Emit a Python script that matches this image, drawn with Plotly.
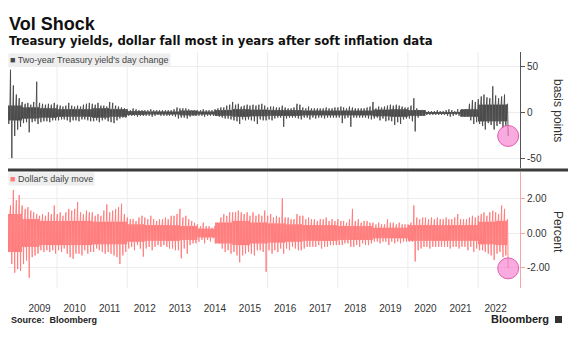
import pandas as pd
import plotly.graph_objects as go

W, H = 576, 340

# ---------------- data ----------------
START_MONTH = "2008-08-01"

# Two-year Treasury yield day change, monthly high / low (basis points), Aug 2008 - Oct 2022
YIELD_HI = [
    12, 47, 30, 20, 16,
    12, 10, 11, 9, 12, 34, 11, 10, 9, 10, 9, 11,
    9, 8, 7, 8, 11, 8, 7, 8, 7, 9, 10, 11,
    10, 9, 11, 8, 8, 7, 12, 11, 8, 7, 6, 5,
    4, 3, 5, 4, 3, 3, 3, 3, 4, 3, 3, 3,
    3, 3, 3, 3, 4, 6, 5, 5, 5, 4, 3, 3,
    3, 3, 4, 3, 3, 3, 4, 5, 6, 6, 8, 9,
    12, 9, 10, 7, 8, 9, 8, 9, 8, 9, 10, 8,
    6, 7, 7, 6, 6, 8, 6, 5, 5, 6, 10, 9,
    6, 5, 7, 5, 5, 5, 5, 5, 6, 5, 5, 6,
    6, 7, 6, 5, 7, 6, 5, 5, 5, 5, 6, 7,
    12, 5, 7, 6, 7, 8, 9, 8, 9, 8, 7, 6,
    6, 8, 16, 5, 3, 3, 2, 2, 2, 2, 3, 2,
    2, 3, 4, 3, 2, 4, 3, 2, 4, 10, 14, 12,
    15, 18, 20, 17, 16, 29, 19, 16, 18, 20,
]
YIELD_LO = [
    -12, -49, -25, -18, -15,
    -11, -10, -21, -10, -9, -12, -10, -9, -9, -10, -8, -8,
    -8, -7, -7, -8, -10, -8, -8, -9, -7, -7, -8, -9,
    -9, -8, -10, -8, -7, -9, -10, -11, -8, -6, -5, -5,
    -3, -3, -3, -4, -3, -3, -3, -3, -4, -3, -2, -3,
    -3, -3, -3, -3, -4, -6, -5, -5, -6, -4, -3, -3,
    -3, -3, -4, -3, -3, -3, -3, -4, -5, -6, -6, -7,
    -8, -9, -12, -7, -8, -7, -8, -9, -12, -7, -8, -8,
    -7, -8, -6, -5, -5, -15, -6, -5, -5, -5, -6, -7,
    -5, -5, -7, -5, -6, -5, -5, -6, -5, -5, -5, -5,
    -5, -11, -6, -5, -15, -5, -5, -5, -5, -5, -6, -7,
    -6, -5, -8, -6, -9, -8, -9, -13, -10, -12, -7, -6,
    -6, -9, -20, -5, -3, -3, -2, -2, -2, -2, -2, -2,
    -2, -3, -4, -3, -2, -3, -3, -2, -3, -8, -12, -10,
    -12, -14, -18, -11, -13, -18, -14, -12, -16, -14,
]
# half-width of the dense core of the yield band, per half-year (basis points)
YIELD_CORE = {
    (2008, 2): 8,
    (2009, 1): 6, (2009, 2): 5, (2010, 1): 4, (2010, 2): 4, (2011, 1): 5, (2011, 2): 4,
    (2012, 1): 2, (2012, 2): 1.5, (2013, 1): 1.5, (2013, 2): 2.5, (2014, 1): 1.5, (2014, 2): 3,
    (2015, 1): 4, (2015, 2): 3.5, (2016, 1): 3, (2016, 2): 3, (2017, 1): 2.5, (2017, 2): 2.5,
    (2018, 1): 2.5, (2018, 2): 2.5, (2019, 1): 3.5, (2019, 2): 4, (2020, 1): 3, (2020, 2): 1,
    (2021, 1): 1, (2021, 2): 4, (2022, 1): 9, (2022, 2): 9,
}

# Dollar's daily move, monthly high / low (percent), Aug 2008 - Oct 2022
USD_HI = [
    0.8, 1.6, 2.5, 1.9, 2.2,
    1.6, 1.4, 1.5, 1.3, 1.2, 1.1, 1.0, 1.1, 1.0, 1.2, 1.1, 1.6,
    1.1, 1.2, 1.0, 1.2, 1.4, 1.3, 1.4, 1.8, 1.2, 1.1, 1.3, 1.2,
    1.2, 1.0, 1.1, 1.0, 1.3, 1.66, 1.2, 1.3, 1.4, 1.5, 1.7, 1.1,
    0.9, 0.8, 0.8, 0.7, 0.9, 1.0, 0.9, 0.8, 1.0, 0.8, 0.7, 0.8,
    0.8, 0.9, 0.8, 1.0, 1.0, 1.1, 1.4, 0.9, 1.0, 0.8, 0.7, 0.6,
    0.5, 0.4, 0.6, 0.4, 0.4, 0.3, 0.4, 0.5, 0.9, 1.1, 1.0, 1.2,
    1.2, 1.2, 1.3, 1.2, 1.1, 1.2, 1.0, 1.2, 1.0, 1.1, 1.0, 1.3,
    1.0, 1.1, 0.9, 1.0, 0.9, 2.0, 0.9, 0.9, 0.8, 0.8, 1.1, 1.0,
    1.0, 0.8, 0.9, 0.8, 0.8, 0.7, 0.8, 0.8, 0.9, 0.7, 0.8, 0.7,
    0.8, 0.7, 0.7, 0.6, 0.8, 1.4, 0.7, 0.8, 0.6, 0.7, 0.7, 0.6,
    0.6, 0.5, 0.6, 0.5, 0.5, 0.8, 0.6, 0.6, 0.5, 0.6, 0.5, 0.5,
    0.5, 0.6, 1.6, 0.9, 0.8, 0.9, 0.9, 0.8, 0.9, 0.8, 0.9, 0.8,
    0.8, 0.9, 0.8, 0.8, 0.9, 1.1, 0.8, 0.8, 0.8, 0.9, 1.0, 0.9,
    1.0, 1.1, 1.2, 1.0, 1.2, 1.3, 1.2, 1.1, 1.6, 1.4,
]
USD_LO = [
    -0.9, -1.8, -2.3, -2.1, -2.2,
    -1.8, -1.6, -2.6, -1.4, -1.3, -1.2, -1.0, -1.1, -1.0, -1.1, -1.0, -1.2,
    -1.0, -1.1, -0.9, -1.2, -1.4, -1.5, -1.2, -1.2, -1.3, -1.0, -1.2, -1.1,
    -1.1, -0.9, -1.0, -1.1, -1.2, -1.1, -1.2, -1.3, -1.4, -1.8, -1.3, -1.1,
    -0.9, -0.8, -1.0, -0.7, -0.9, -1.37, -0.9, -0.8, -1.0, -0.8, -0.7, -0.8,
    -0.7, -0.8, -0.9, -0.9, -1.0, -1.0, -1.47, -0.9, -1.2, -0.7, -0.6, -0.6,
    -0.5, -0.4, -0.6, -0.4, -0.5, -0.3, -0.4, -0.6, -0.9, -1.1, -1.0, -1.2,
    -1.1, -1.3, -1.7, -1.3, -1.2, -1.1, -1.2, -1.3, -1.0, -1.0, -1.1, -2.25,
    -1.0, -1.2, -1.0, -1.1, -0.9, -1.2, -0.9, -1.0, -0.8, -0.9, -1.0, -1.0,
    -0.9, -0.8, -0.8, -0.8, -0.8, -0.7, -0.9, -0.8, -0.8, -0.7, -0.7, -0.7,
    -0.7, -0.7, -0.6, -0.6, -0.8, -0.8, -0.7, -0.8, -0.6, -0.7, -0.7, -0.6,
    -0.5, -0.5, -0.6, -0.5, -0.5, -0.7, -0.5, -0.6, -0.5, -0.6, -0.5, -0.5,
    -0.5, -0.5, -1.65, -1.0, -0.9, -0.8, -0.8, -0.9, -0.8, -0.8, -0.8, -0.8,
    -0.8, -0.8, -0.9, -0.8, -0.8, -0.9, -0.8, -0.8, -1.0, -0.8, -1.1, -0.9,
    -1.0, -1.0, -1.1, -1.2, -1.3, -1.57, -1.2, -1.1, -1.4, -1.3,
]
# half-width of the dense core of the dollar band, per half-year (percent)
USD_CORE = {
    (2008, 2): 1.1,
    (2009, 1): 0.8, (2009, 2): 0.7, (2010, 1): 0.7, (2010, 2): 0.7, (2011, 1): 0.65,
    (2011, 2): 0.65, (2012, 1): 0.5, (2012, 2): 0.45, (2013, 1): 0.45, (2013, 2): 0.4,
    (2014, 1): 0.25, (2014, 2): 0.6, (2015, 1): 0.7, (2015, 2): 0.6, (2016, 1): 0.55,
    (2016, 2): 0.5, (2017, 1): 0.45, (2017, 2): 0.45, (2018, 1): 0.4, (2018, 2): 0.4,
    (2019, 1): 0.3, (2019, 2): 0.3, (2020, 1): 0.45, (2020, 2): 0.45, (2021, 1): 0.45,
    (2021, 2): 0.45, (2022, 1): 0.65, (2022, 2): 0.7,
}

# last days (November 2022, soft CPI print)
FINAL_DATES = ["2022-11-03", "2022-11-10"]
YIELD_FINAL = [10, -25]
USD_FINAL = [0.8, -2.05]

YEARS = list(range(2009, 2023))            # x tick labels
GRID_YEARS = [2010, 2012, 2014, 2016, 2018, 2020, 2022]
YIELD_TICKS = [-50, 0, 50]
USD_TICKS = [-2, 0, 2]

# ---------------- build series ----------------
# each month: its high and low days, with the dense core swings in between
DAYS = (2, 5, 9, 13, 16, 20, 24, 27)
months = pd.date_range(START_MONTH, periods=len(YIELD_HI), freq="MS")
xs, ys_y, ys_u = [], [], []
for m, yh, yl, uh, ul in zip(months, YIELD_HI, YIELD_LO, USD_HI, USD_LO):
    half = (m.year, 1 if m.month <= 6 else 2)
    cy, cu = YIELD_CORE[half], USD_CORE[half]
    xs += [m + pd.Timedelta(days=d) for d in DAYS]
    ys_y += [yh, -cy, cy, -cy, yl, cy, -cy, cy]
    ys_u += [uh, -cu, cu, -cu, ul, cu, -cu, cu]
xs += list(pd.to_datetime(FINAL_DATES))
ys_y += YIELD_FINAL
ys_u += USD_FINAL

# ---------------- layout geometry ----------------
def px_x(p):
    return p / W

def px_y(p):
    return 1 - p / H

X_DOM = [px_x(8), px_x(520)]
TOP_DOM = [px_y(168), px_y(52)]
BOT_DOM = [px_y(288), px_y(172)]
X_RANGE = ["2008-08-08", "2023-03-13"]

GRAY = "#474747"
PINK = "#ff7b7b"
FONT = "Liberation Sans"

fig = go.Figure()
fig.add_trace(go.Scatter(x=xs, y=ys_y, mode="lines", line=dict(color=GRAY, width=0.9),
                         xaxis="x", yaxis="y", hoverinfo="skip"))
fig.add_trace(go.Scatter(x=xs, y=ys_u, mode="lines", line=dict(color=PINK, width=0.9),
                         xaxis="x2", yaxis="y2", hoverinfo="skip"))
# highlight circles at last point
circle = dict(size=21, color="rgba(245,120,205,0.62)", line=dict(color="#e05db0", width=1))
fig.add_trace(go.Scatter(x=[FINAL_DATES[-1]], y=[YIELD_FINAL[-1]], mode="markers",
                         marker=circle, xaxis="x", yaxis="y", hoverinfo="skip"))
fig.add_trace(go.Scatter(x=[FINAL_DATES[-1]], y=[USD_FINAL[-1]], mode="markers",
                         marker=circle, xaxis="x2", yaxis="y2", hoverinfo="skip"))

tickfont = dict(family=FONT, size=10, color="#333")
fig.update_layout(
    width=W, height=H, margin=dict(l=0, r=0, t=0, b=0),
    paper_bgcolor="white", plot_bgcolor="white", showlegend=False,
    xaxis=dict(domain=X_DOM, anchor="y", range=X_RANGE, type="date",
               showgrid=False, showticklabels=False, ticks="", zeroline=False, showline=False),
    xaxis2=dict(domain=X_DOM, anchor="y2", range=X_RANGE, type="date", matches="x",
                showgrid=False, showline=False, zeroline=False, ticks="",
                tickmode="array", tickvals=[f"{y}-07-02" for y in YEARS],
                ticktext=[str(y) for y in YEARS], tickfont=tickfont, ticklabelstandoff=13),
    yaxis=dict(domain=TOP_DOM, anchor="x", side="right", range=[-59.8, 66.3],
               tickmode="array", tickvals=YIELD_TICKS, ticktext=[str(v) for v in YIELD_TICKS],
               showgrid=True, gridcolor="#ececec", zeroline=False,
               showline=True, linecolor="#555", linewidth=1,
               ticks="outside", ticklen=4, tickcolor="#555", tickfont=tickfont),
    yaxis2=dict(domain=BOT_DOM, anchor="x2", side="right", range=[-3.19, 3.54],
                tickmode="array", tickvals=USD_TICKS, ticktext=[f"{v:.2f}" for v in USD_TICKS],
                showgrid=True, gridcolor="#ececec", zeroline=False,
                showline=True, linecolor="#f7a5a5", linewidth=1,
                ticks="outside", ticklen=4, tickcolor="#f7a5a5", tickfont=tickfont),
)

shapes = []
for gy in GRID_YEARS:
    shapes.append(dict(type="line", xref="x", yref="paper", x0=f"{gy}-01-01", x1=f"{gy}-01-01",
                       y0=BOT_DOM[0], y1=TOP_DOM[1], line=dict(color="#ececec", width=1),
                       layer="below"))
# panel separator
shapes.append(dict(type="line", xref="paper", yref="paper", x0=px_x(8), x1=px_x(568),
                   y0=px_y(170), y1=px_y(170), line=dict(color="#3c3c3c", width=3)))
# Bloomberg logo glyph
shapes.append(dict(type="rect", xref="paper", yref="paper", x0=px_x(555), x1=px_x(562),
                   y0=px_y(323), y1=px_y(316), fillcolor="#333", line=dict(width=0)))
fig.update_layout(shapes=shapes)

ann = [
    dict(text="<b>Vol Shock</b>", x=px_x(7), y=px_y(24), xanchor="left", yanchor="middle",
         font=dict(family=FONT, size=18, color="#111")),
    dict(text="<b>Treasury yields, dollar fall most in years after soft inflation data</b>",
         x=px_x(7), y=px_y(41), xanchor="left", yanchor="middle",
         font=dict(family="DejaVu Sans", size=11.7, color="#111")),
    dict(text=f"<span style='color:{GRAY}'>■</span> Two-year Treasury yield's day change",
         x=px_x(8), y=px_y(59.5), xanchor="left", yanchor="middle", bgcolor="#eeeeee",
         borderpad=1, font=dict(family=FONT, size=9, color="#444")),
    dict(text=f"<span style='color:{PINK}'>■</span> Dollar's daily move",
         x=px_x(8), y=px_y(178.5), xanchor="left", yanchor="middle", bgcolor="#eeeeee",
         borderpad=1, font=dict(family=FONT, size=9, color="#444")),
    dict(text="basis points", x=px_x(558), y=px_y(110), textangle=90,
         xanchor="center", yanchor="middle", font=dict(family=FONT, size=12, color="#333")),
    dict(text="Percent", x=px_x(558), y=px_y(232), textangle=90,
         xanchor="center", yanchor="middle", font=dict(family=FONT, size=12, color="#333")),
    dict(text="<b>Source:  Bloomberg</b>", x=px_x(9), y=px_y(320), xanchor="left",
         yanchor="middle", font=dict(family=FONT, size=9, color="#222")),
    dict(text="<b>Bloomberg</b>", x=px_x(551), y=px_y(319), xanchor="right",
         yanchor="middle", font=dict(family=FONT, size=11, color="#222")),
]
for a in ann:
    a.setdefault("xref", "paper")
    a.setdefault("yref", "paper")
    a["showarrow"] = False
fig.update_layout(annotations=ann)

fig.write_html("out.html")
